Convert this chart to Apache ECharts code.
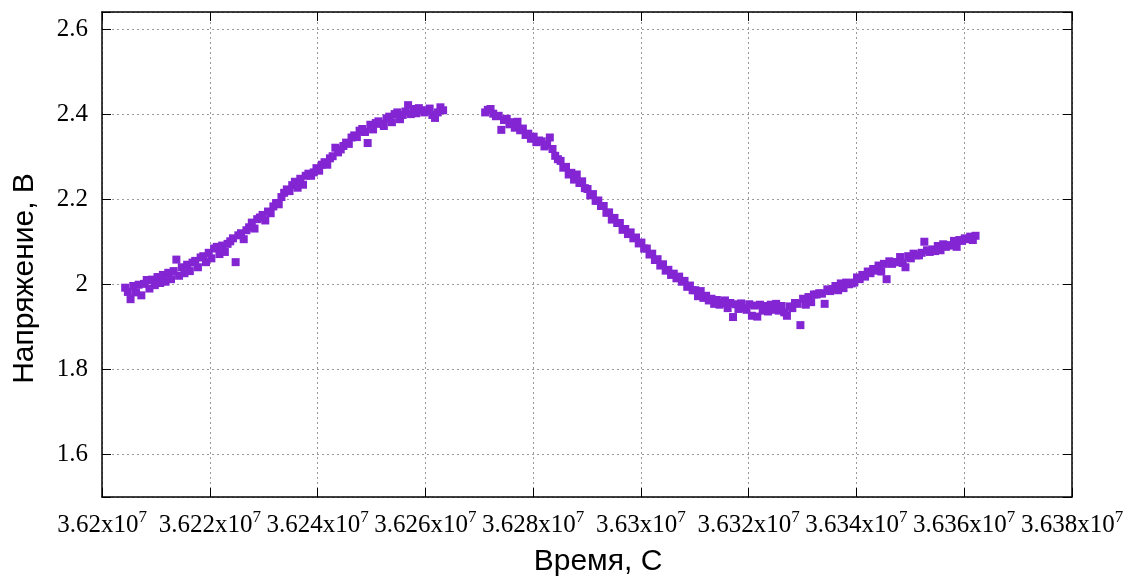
<!DOCTYPE html>
<html><head><meta charset="utf-8">
<script src="https://cdn.jsdelivr.net/npm/echarts@6/dist/echarts.min.js"></script>
<style>html,body{margin:0;padding:0;background:#fff}#chart{width:1138px;height:576px}</style>
</head><body><div id="chart"></div>
<script>
// Time, seconds
const timeSec = [
36204300,36204800,36205300,36205800,36206300,36206800,36207300,36207800,36208300,36208800,
36209300,36209800,36210300,36210800,36211300,36211800,36212300,36212800,36213300,36213800,
36214300,36214800,36215300,36215800,36216300,36216800,36217300,36217800,36218300,36218800,
36219300,36219800,36220300,36220800,36221300,36221800,36222300,36222800,36223300,36223800,
36224300,36224800,36225300,36225800,36226300,36226800,36227300,36227800,36228300,36228800,
36229300,36229800,36230300,36230800,36231300,36231800,36232300,36232800,36233300,36233800,
36234300,36234800,36235300,36235800,36236300,36236800,36237300,36237800,36238300,36238800,
36239300,36239800,36240300,36240800,36241300,36241800,36242300,36242800,36243300,36243800,
36244300,36244800,36245300,36245800,36246300,36246800,36247300,36247800,36248300,36248800,
36249300,36249800,36250300,36250800,36251300,36251800,36252300,36252800,36253300,36253800,
36254300,36254800,36255300,36255800,36256300,36256800,36257300,36257800,36258300,36258800,
36259300,36259800,36260300,36260800,36261300,36261800,36262300,36262800,36263300,
36271100,36271600,36272100,36272600,36273100,36273600,36274100,36274600,36275100,36275600,
36276100,36276600,36277100,36277600,36278100,36278600,36279100,36279600,36280100,36280600,
36281100,36281600,36282100,36282600,36283100,36283600,36284100,36284600,36285100,36285600,
36286100,36286600,36287100,36287600,36288100,36288600,36289100,36289600,36290100,36290600,
36291100,36291600,36292100,36292600,36293100,36293600,36294100,36294600,36295100,36295600,
36296100,36296600,36297100,36297600,36298100,36298600,36299100,36299600,36300100,36300600,
36301100,36301600,36302100,36302600,36303100,36303600,36304100,36304600,36305100,36305600,
36306100,36306600,36307100,36307600,36308100,36308600,36309100,36309600,36310100,36310600,
36311100,36311600,36312100,36312600,36313100,36313600,36314100,36314600,36315100,36315600,
36316100,36316600,36317100,36317600,36318100,36318600,36319100,36319600,36320100,36320600,
36321100,36321600,36322100,36322600,36323100,36323600,36324100,36324600,36325100,36325600,
36326100,36326600,36327100,36327600,36328100,36328600,36329100,36329600,36330100,36330600,
36331100,36331600,36332100,36332600,36333100,36333600,36334100,36334600,36335100,36335600,
36336100,36336600,36337100,36337600,36338100,36338600,36339100,36339600,36340100,36340600,
36341100,36341600,36342100,36342600,36343100,36343600,36344100,36344600,36345100,36345600,
36346100,36346600,36347100,36347600,36348100,36348600,36349100,36349600,36350100,36350600,
36351100,36351600,36352100,36352600,36353100,36353600,36354100,36354600,36355100,36355600,
36356100,36356600,36357100,36357600,36358100,36358600,36359100,36359600,36360100,36360600,
36361100,36361600,36362100
];
// Voltage, V
const voltage = [
1.992,1.982,1.965,1.996,1.981,1.999,1.974,2.001,2.010,1.990,
2.011,1.998,2.017,2.003,2.022,2.006,2.027,2.012,2.031,2.058,
2.020,2.040,2.026,2.046,2.031,2.051,2.055,2.040,2.063,2.066,
2.052,2.074,2.061,2.084,2.088,2.071,2.091,2.076,2.095,2.101,
2.108,2.052,2.115,2.120,2.106,2.127,2.134,2.145,2.131,2.153,
2.157,2.163,2.150,2.171,2.167,2.183,2.191,2.188,2.205,2.215,
2.223,2.219,2.233,2.241,2.227,2.248,2.234,2.255,2.260,2.255,
2.263,2.273,2.267,2.281,2.287,2.281,2.296,2.301,2.321,2.310,
2.317,2.325,2.333,2.330,2.345,2.350,2.346,2.361,2.365,2.358,
2.332,2.375,2.364,2.379,2.383,2.377,2.372,2.390,2.394,2.381,
2.400,2.404,2.388,2.398,2.406,2.421,2.400,2.412,2.402,2.414,
2.409,2.404,2.408,2.413,2.398,2.391,2.404,2.416,2.409,
2.404,2.410,2.412,2.401,2.395,2.396,2.363,2.386,2.389,2.376,
2.381,2.368,2.382,2.362,2.366,2.351,2.354,2.342,2.347,2.334,
2.338,2.336,2.324,2.328,2.345,2.318,2.302,2.294,2.290,2.274,
2.276,2.258,2.262,2.246,2.258,2.238,2.242,2.226,2.224,2.209,
2.212,2.196,2.197,2.184,2.184,2.168,2.169,2.152,2.156,2.144,
2.144,2.128,2.130,2.118,2.122,2.108,2.110,2.096,2.098,2.084,
2.084,2.070,2.072,2.057,2.059,2.044,2.047,2.032,2.034,2.022,
2.025,2.014,2.018,2.006,2.008,1.994,1.997,1.986,1.986,1.972,
1.984,1.968,1.973,1.962,1.966,1.954,1.963,1.952,1.956,1.962,
1.944,1.956,1.923,1.953,1.942,1.955,1.944,1.940,1.953,1.926,
1.950,1.924,1.952,1.938,1.949,1.936,1.952,1.940,1.954,1.938,
1.949,1.934,1.926,1.948,1.944,1.956,1.954,1.904,1.966,1.952,
1.970,1.958,1.976,1.976,1.979,1.978,1.954,1.988,1.984,1.989,
1.996,1.986,2.002,1.991,2.004,2.000,2.002,2.004,2.016,2.012,
2.022,2.018,2.030,2.026,2.036,2.032,2.044,2.030,2.048,2.012,
2.054,2.048,2.052,2.052,2.064,2.050,2.040,2.066,2.061,2.072,
2.068,2.068,2.074,2.100,2.080,2.076,2.082,2.078,2.090,2.080,
2.094,2.088,2.092,2.091,2.102,2.088,2.104,2.102,2.108,2.106,
2.112,2.104,2.114
];
const xRange = [36200000, 36380000];
const xStep = 20000;
const yRange = [1.5, 2.64];
const yTickLabels = [1.6, 1.8, 2, 2.2, 2.4, 2.6];
const xTitle = 'Время, С';
const yTitle = 'Напряжение, В';

const data = timeSec.map((t, i) => [t, voltage[i]]);
const serif = 'Liberation Serif';
const sans = 'Liberation Sans';
const gridLine = { show: true, lineStyle: { color: '#9a9a9a', width: 1, type: [2, 3] } };
const frameLine = { show: true, onZero: false, lineStyle: { color: '#000', width: 1.5 } };
const tick = { show: true, inside: true, length: 9, lineStyle: { color: '#000', width: 1 } };
const isYTick = v => yTickLabels.some(t => Math.abs(t - v) < 1e-6);

const chart = echarts.init(document.getElementById('chart'), null, { renderer: 'canvas' });
chart.setOption({
  backgroundColor: '#fff',
  animation: false,
  grid: { left: 102, right: 66, top: 12, bottom: 79, containLabel: false, outerBoundsMode: 'none' },
  xAxis: [{
    type: 'value', position: 'bottom', min: xRange[0], max: xRange[1], interval: xStep,
    axisLine: frameLine, axisTick: tick, splitLine: gridLine,
    name: xTitle, nameLocation: 'middle', nameGap: 50, nameMoveOverlap: false,
    nameTextStyle: { fontFamily: sans, fontSize: 30, color: '#000', padding: [0, 0, 0, 22] },
    axisLabel: {
      margin: 12, color: '#000',
      formatter: v => '{m|' + (+(v / 1e7).toFixed(4)) + 'x10}{e|7}',
      rich: {
        m: { fontFamily: serif, fontSize: 25, color: '#000' },
        e: { fontFamily: serif, fontSize: 17, color: '#000', padding: [0, 0, 16, 0] }
      }
    }
  }, {
    type: 'value', position: 'top', min: xRange[0], max: xRange[1], interval: xStep,
    axisLine: frameLine, axisTick: tick, splitLine: { show: false }, axisLabel: { show: false }
  }],
  yAxis: [{
    type: 'value', position: 'left', min: yRange[0], max: yRange[1],
    axisLine: frameLine, axisTick: tick, splitLine: gridLine,
    name: yTitle, nameLocation: 'middle', nameGap: 62, nameMoveOverlap: false,
    nameTextStyle: { fontFamily: sans, fontSize: 30, color: '#000', padding: [0, 48, 0, 0] },
    axisLabel: {
      margin: 14, color: '#000', fontFamily: serif, fontSize: 25,
      formatter: v => isYTick(v) ? String(+v.toFixed(2)) : ''
    }
  }, {
    type: 'value', position: 'right', min: yRange[0], max: yRange[1],
    axisLine: frameLine, axisTick: tick, splitLine: { show: false }, axisLabel: { show: false }
  }],
  series: [{
    type: 'scatter', xAxisIndex: 0, yAxisIndex: 0,
    symbol: 'rect', symbolSize: 8,
    itemStyle: { color: '#8325d3', opacity: 1 },
    data: data
  }]
});
</script>
</body></html>
